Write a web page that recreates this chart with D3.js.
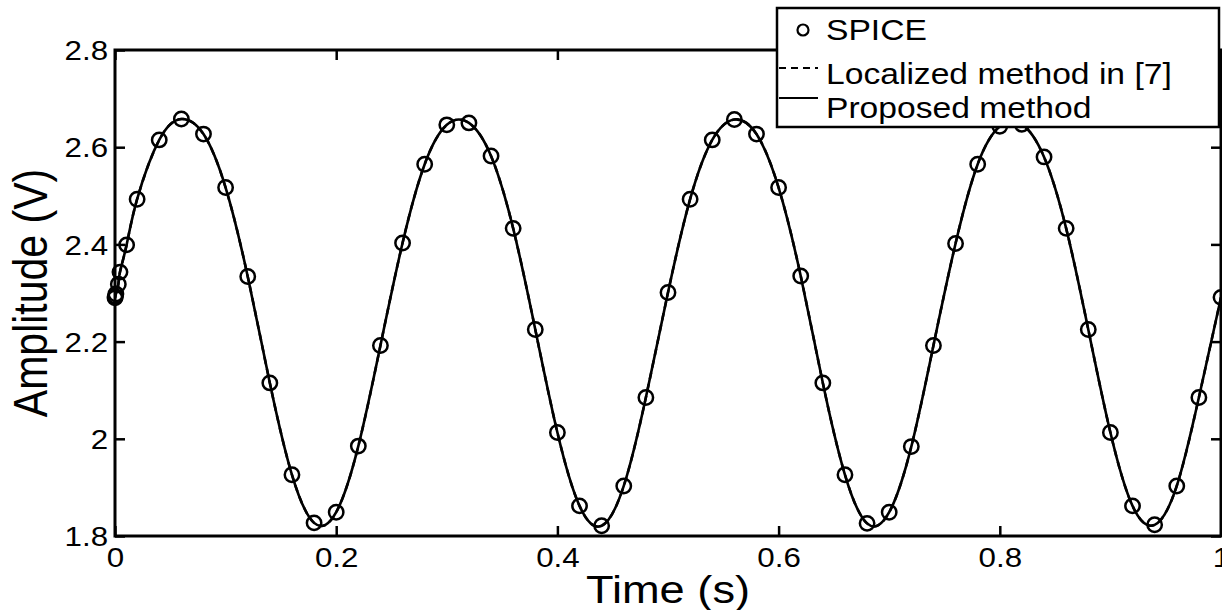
<!DOCTYPE html>
<html lang="en">
<head>
  <meta charset="UTF-8">
  <title>Amplitude vs Time</title>
  <script src="https://d3js.org/d3.v7.min.js"></script>
  <style>
    body { margin: 0; background: #fff; }
    text { font-family: "Liberation Sans", Arial, Helvetica, sans-serif; fill: #000; }
  </style>
</head>
<body>
  <div id="chart"></div>
  <script>
    // SPICE samples (s, V)
    const spiceTime = [0, 0.0003, 0.0008, 0.003, 0.0045, 0.0105,
      0.02, 0.04, 0.06, 0.08, 0.10, 0.12, 0.14, 0.16, 0.18, 0.20,
      0.22, 0.24, 0.26, 0.28, 0.30, 0.32, 0.34, 0.36, 0.38, 0.40,
      0.42, 0.44, 0.46, 0.48, 0.50, 0.52, 0.54, 0.56, 0.58, 0.60,
      0.62, 0.64, 0.66, 0.68, 0.70, 0.72, 0.74, 0.76, 0.78, 0.80,
      0.82, 0.84, 0.86, 0.88, 0.90, 0.92, 0.94, 0.96, 0.98, 1.00];
    const spiceValues = [2.290, 2.293, 2.298, 2.318, 2.343, 2.399,
      2.493, 2.615, 2.658, 2.627, 2.517, 2.334, 2.115, 1.926, 1.827, 1.849,
      1.985, 2.192, 2.403, 2.565, 2.646, 2.650, 2.582, 2.433, 2.225, 2.013,
      1.862, 1.821, 1.903, 2.085, 2.301, 2.493, 2.615, 2.657, 2.627, 2.517,
      2.335, 2.115, 1.926, 1.826, 1.849, 1.984, 2.192, 2.402, 2.565, 2.643,
      2.647, 2.580, 2.433, 2.225, 2.013, 1.862, 1.823, 1.903, 2.085, 2.291];
    // both methods lie on top of the SPICE samples in the picture
    const localizedValues = spiceValues.slice();
    const proposedValues = spiceValues.slice();

    const xTicks = [0, 0.2, 0.4, 0.6, 0.8, 1];
    const yTicks = [1.8, 2, 2.2, 2.4, 2.6, 2.8];
    const legendLabels = ["SPICE", "Localized method in [7]", "Proposed method"];

    const W = 1222, H = 610;
    const mLeft = 115, mRight = 1221, mTop = 50, mBottom = 536;
    const stretch = 1.16; // glyphs in the figure are a bit wide

    const svg = d3.select("#chart").append("svg")
      .attr("width", W)
      .attr("height", H);

    svg.append("rect").attr("width", W).attr("height", H).attr("fill", "#fff");

    const x = d3.scaleLinear().domain([0, 1]).range([mLeft, mRight]);
    const y = d3.scaleLinear().domain([1.8, 2.8]).range([mBottom, mTop]);

    // axes, ticks pointing inward
    const gx = svg.append("g")
      .attr("transform", "translate(0," + mBottom + ")")
      .call(d3.axisBottom(x).tickValues(xTicks).tickSizeInner(-10).tickSizeOuter(0).tickPadding(12)
        .tickFormat(d3.format("")));
    const gy = svg.append("g")
      .attr("transform", "translate(" + mLeft + ",0)")
      .call(d3.axisLeft(y).tickValues(yTicks).tickSizeInner(-10).tickSizeOuter(0).tickPadding(6)
        .tickFormat(d3.format("")));
    svg.append("g")
      .attr("transform", "translate(0," + mTop + ")")
      .call(d3.axisTop(x).tickValues(xTicks).tickSizeInner(-10).tickSizeOuter(0).tickFormat(""));
    svg.append("g")
      .attr("transform", "translate(" + mRight + ",0)")
      .call(d3.axisRight(y).tickValues(yTicks).tickSizeInner(-10).tickSizeOuter(0).tickFormat(""));

    svg.selectAll(".domain").remove();
    svg.selectAll(".tick line").attr("stroke", "#000").attr("stroke-width", 2.5);
    svg.selectAll(".tick text")
      .attr("font-size", 27)
      .attr("fill", "#000")
      .attr("transform", "scale(" + stretch + ",1)");
    gy.selectAll(".tick text").attr("dy", "0.36em");

    // box
    svg.append("rect")
      .attr("x", mLeft).attr("y", mTop)
      .attr("width", mRight - mLeft).attr("height", mBottom - mTop)
      .attr("fill", "none").attr("stroke", "#000").attr("stroke-width", 3);

    const points = spiceTime.map((t, i) => ({ t: t, spice: spiceValues[i], loc: localizedValues[i], prop: proposedValues[i] }));

    svg.append("clipPath").attr("id", "clip")
      .append("rect").attr("x", mLeft).attr("y", mTop - 20).attr("width", mRight - mLeft + 10).attr("height", mBottom - mTop + 20);

    const plot = svg.append("g").attr("clip-path", "url(#clip)");

    const locLine = d3.line().x(d => x(d.t)).y(d => y(d.loc)).curve(d3.curveNatural);
    const propLine = d3.line().x(d => x(d.t)).y(d => y(d.prop)).curve(d3.curveNatural);

    plot.append("path")
      .datum(points)
      .attr("d", locLine)
      .attr("fill", "none")
      .attr("stroke", "#000")
      .attr("stroke-width", 2.5)
      .attr("stroke-dasharray", "7,5");

    plot.append("path")
      .datum(points)
      .attr("d", propLine)
      .attr("fill", "none")
      .attr("stroke", "#000")
      .attr("stroke-width", 2.6);

    svg.append("g")
      .selectAll("circle")
      .data(points)
      .enter()
      .append("circle")
      .attr("cx", d => x(d.t))
      .attr("cy", d => y(d.spice))
      .attr("r", 7.2)
      .attr("fill", "none")
      .attr("stroke", "#000")
      .attr("stroke-width", 2.5);

    // axis labels
    svg.append("text")
      .attr("transform", "translate(" + (mLeft + mRight) / 2 + ",603) scale(" + stretch + ",1)")
      .attr("text-anchor", "middle")
      .attr("font-size", 39)
      .text("Time (s)");

    svg.append("text")
      .attr("transform", "translate(47," + (mTop + mBottom) / 2 + ") scale(" + stretch + ",1) rotate(-90)")
      .attr("text-anchor", "middle")
      .attr("font-size", 41)
      .text("Amplitude (V)");

    // legend
    const lg = svg.append("g");
    lg.append("rect")
      .attr("x", 777).attr("y", 8)
      .attr("width", 442).attr("height", 119)
      .attr("fill", "#fff").attr("stroke", "#000").attr("stroke-width", 2.5);

    const rows = [40, 84, 118]; // baselines
    lg.append("circle")
      .attr("cx", 803).attr("cy", 30).attr("r", 5.5)
      .attr("fill", "none").attr("stroke", "#000").attr("stroke-width", 2.2);
    lg.append("line")
      .attr("x1", 779).attr("x2", 818).attr("y1", 68).attr("y2", 68)
      .attr("stroke", "#000").attr("stroke-width", 2.2).attr("stroke-dasharray", "7,5");
    lg.append("line")
      .attr("x1", 779).attr("x2", 818).attr("y1", 98).attr("y2", 98)
      .attr("stroke", "#000").attr("stroke-width", 2.2);

    lg.selectAll("text.leg")
      .data(legendLabels)
      .enter()
      .append("text")
      .attr("class", "leg")
      .attr("transform", (d, i) => "translate(826," + rows[i] + ") scale(" + stretch + ",1)")
      .attr("font-size", 29)
      .text(d => d);
  </script>
</body>
</html>
